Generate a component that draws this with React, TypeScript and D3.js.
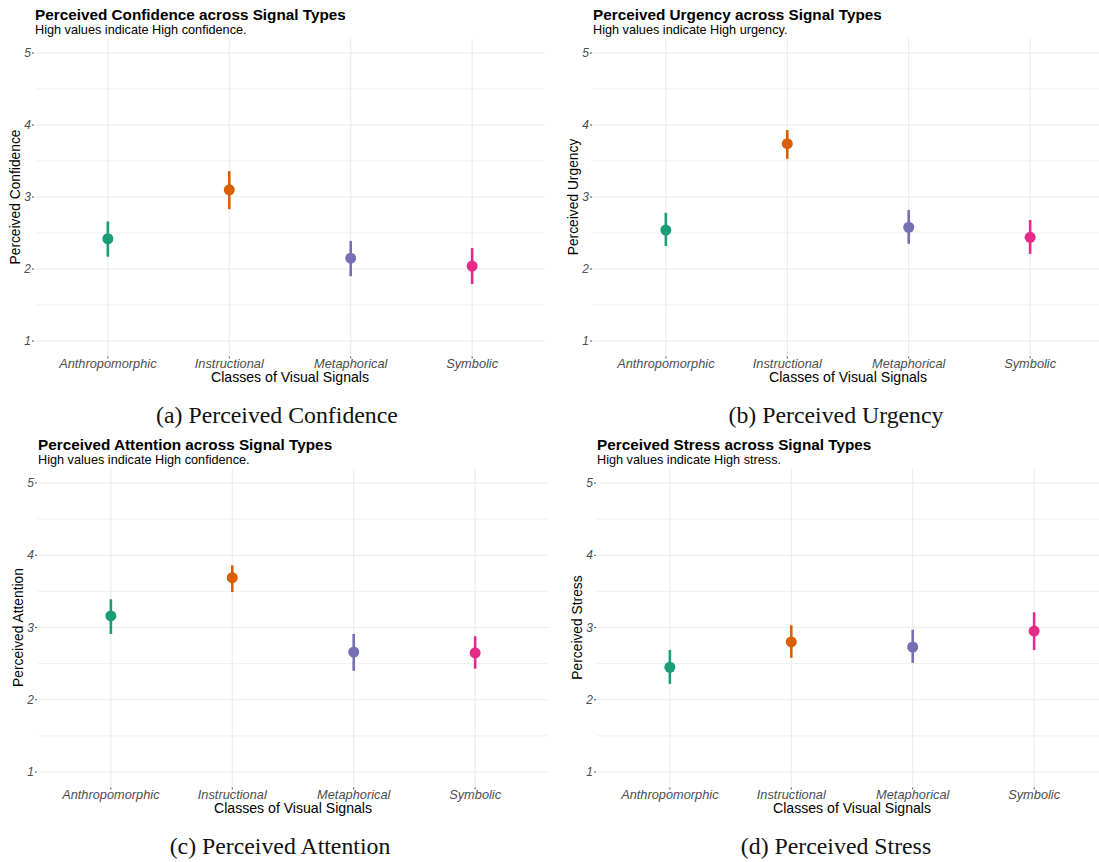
import React from "react";
import * as d3 from "d3";

const categories = ["Anthropomorphic", "Instructional", "Metaphorical", "Symbolic"];
const colors = ["#1B9E77", "#D95F02", "#7570B3", "#E7298A"];
const yTicks = [1, 2, 3, 4, 5];
const yMinor = [1.5, 2.5, 3.5, 4.5];

const confidenceMean = [2.42, 3.10, 2.15, 2.04];
const confidenceLow = [2.17, 2.83, 1.90, 1.79];
const confidenceHigh = [2.66, 3.36, 2.39, 2.29];

const urgencyMean = [2.54, 3.74, 2.58, 2.44];
const urgencyLow = [2.32, 3.53, 2.35, 2.21];
const urgencyHigh = [2.78, 3.93, 2.82, 2.68];

const attentionMean = [3.16, 3.69, 2.66, 2.65];
const attentionLow = [2.91, 3.49, 2.40, 2.43];
const attentionHigh = [3.39, 3.86, 2.91, 2.88];

const stressMean = [2.45, 2.80, 2.73, 2.95];
const stressLow = [2.22, 2.58, 2.51, 2.69];
const stressHigh = [2.69, 3.03, 2.97, 3.21];

const panels = [
  { title: "Perceived Confidence across Signal Types", subtitle: "High values indicate High confidence.", ylab: "Perceived Confidence", caption: "(a) Perceived Confidence", mean: confidenceMean, low: confidenceLow, high: confidenceHigh, left: 35, y5: 53, y1: 341, capX: 277, capY: 423 },
  { title: "Perceived Urgency across Signal Types", subtitle: "High values indicate High urgency.", ylab: "Perceived Urgency", caption: "(b) Perceived Urgency", mean: urgencyMean, low: urgencyLow, high: urgencyHigh, left: 593, y5: 53, y1: 341, capX: 836, capY: 423 },
  { title: "Perceived Attention across Signal Types", subtitle: "High values indicate High confidence.", ylab: "Perceived Attention", caption: "(c) Perceived Attention", mean: attentionMean, low: attentionLow, high: attentionHigh, left: 38, y5: 483, y1: 772, capX: 280, capY: 854 },
  { title: "Perceived Stress across Signal Types", subtitle: "High values indicate High stress.", ylab: "Perceived Stress", caption: "(d) Perceived Stress", mean: stressMean, low: stressLow, high: stressHigh, left: 597, y5: 483, y1: 772, capX: 836, capY: 854 },
];

const FONT = "'Liberation Sans', Arial, sans-serif";
const WIDTH = 510;

function Panel({ p }: { p: typeof panels[0] }) {
  const step = WIDTH / (categories.length - 1 + 1.2);
  const xp = d3.scalePoint().domain(categories).range([p.left + 0.6 * step, p.left + WIDTH - 0.6 * step]);
  const y = d3.scaleLinear().domain([1, 5]).range([p.y1, p.y5]);
  const top = y(5.2);
  const bottom = y(0.8);
  const right = p.left + WIDTH;
  return (
    <g>
      {yMinor.map((t) => (
        <line key={"mi" + t} x1={p.left} x2={right} y1={y(t)} y2={y(t)} stroke="#EBEBEB" strokeWidth={0.8} />
      ))}
      {yTicks.map((t) => (
        <line key={"ma" + t} x1={p.left} x2={right} y1={y(t)} y2={y(t)} stroke="#EBEBEB" strokeWidth={1.1} />
      ))}
      {categories.map((c) => (
        <line key={"v" + c} x1={xp(c)} x2={xp(c)} y1={top} y2={bottom} stroke="#EBEBEB" strokeWidth={1.1} />
      ))}
      {yTicks.map((t) => (
        <g key={"yt" + t}>
          <line x1={p.left - 3} x2={p.left - 1} y1={y(t)} y2={y(t)} stroke="#4D4D4D" strokeWidth={1} />
          <text x={p.left - 4} y={y(t)} dy="0.35em" textAnchor="end" fontFamily={FONT} fontStyle="italic" fontSize={12} fill="#4D4D4D">{t}</text>
        </g>
      ))}
      {categories.map((c) => (
        <g key={"xt" + c}>
          <line x1={xp(c)} x2={xp(c)} y1={bottom + 1} y2={bottom + 3} stroke="#4D4D4D" strokeWidth={1} />
          <text x={xp(c)} y={bottom + 12.5} textAnchor="middle" fontFamily={FONT} fontStyle="italic" fontSize={12.8} fill="#4D4D4D">{c}</text>
        </g>
      ))}
      <text x={p.left + WIDTH / 2} y={bottom + 27} textAnchor="middle" fontFamily={FONT} fontSize={14.1} fill="#000">Classes of Visual Signals</text>
      <text transform={`translate(${p.left - 15},${(top + bottom) / 2}) rotate(-90)`} textAnchor="middle" fontFamily={FONT} fontSize={13.8} fill="#000">{p.ylab}</text>
      <text x={p.left} y={top - 19} fontFamily={FONT} fontWeight="bold" fontSize={15.3} fill="#000">{p.title}</text>
      <text x={p.left} y={top - 5} fontFamily={FONT} fontSize={12.7} fill="#000">{p.subtitle}</text>
      {categories.map((c, i) => (
        <g key={"pt" + c}>
          <line x1={xp(c)} x2={xp(c)} y1={y(p.low[i])} y2={y(p.high[i])} stroke={colors[i]} strokeWidth={2.6} />
          <circle cx={xp(c)} cy={y(p.mean[i])} r={5.5} fill={colors[i]} />
        </g>
      ))}
      <text x={p.capX} y={p.capY} textAnchor="middle" fontFamily="'Liberation Serif', 'DejaVu Serif', serif" fontSize={23.8} fill="#111">{p.caption}</text>
    </g>
  );
}

export default function App() {
  return (
    <svg width={1099} height={862} style={{ position: "absolute", left: 0, top: 0, background: "#fff" }}>
      <rect width={1099} height={862} fill="#fff" />
      {panels.map((p) => (
        <Panel key={p.caption} p={p} />
      ))}
    </svg>
  );
}
